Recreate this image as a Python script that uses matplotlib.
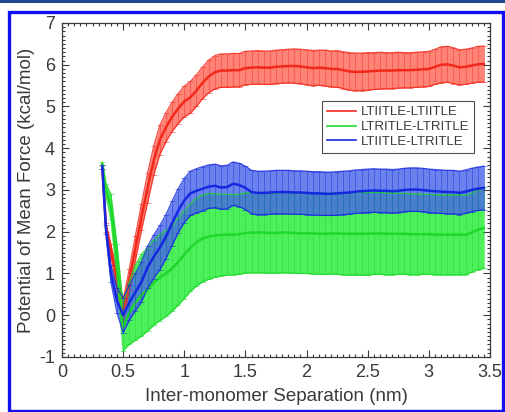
import matplotlib
matplotlib.use("Agg")
import matplotlib.pyplot as plt
import numpy as np
from matplotlib.patches import Rectangle
from matplotlib.ticker import MultipleLocator, FuncFormatter

plt.rcParams['font.family'] = ['Liberation Sans', 'DejaVu Sans']

# inter-monomer separation (nm)
sep = [0.33, 0.36, 0.40, 0.45, 0.50, 0.55, 0.60, 0.65, 0.70, 0.75,
       0.80, 0.85, 0.90, 0.95, 1.00, 1.05, 1.10, 1.15, 1.20, 1.25,
       1.30, 1.35, 1.40, 1.45, 1.50, 1.55, 1.60, 1.65, 1.70, 1.75,
       1.80, 1.85, 1.90, 1.95, 2.00, 2.05, 2.10, 2.15, 2.20, 2.25,
       2.30, 2.35, 2.40, 2.45, 2.50, 2.55, 2.60, 2.65, 2.70, 2.75,
       2.80, 2.85, 2.90, 2.95, 3.00, 3.05, 3.10, 3.15, 3.20, 3.25,
       3.30, 3.35, 3.40, 3.45]

# LTIITLE-LTIITLE
pmf_ii = [3.55, 2.10, 1.55, 0.85, 0.12, 0.85, 1.60, 2.35, 3.05, 3.70,
          4.20, 4.50, 4.75, 4.95, 5.12, 5.22, 5.38, 5.57, 5.72, 5.82,
          5.86, 5.86, 5.87, 5.87, 5.92, 5.93, 5.94, 5.93, 5.93, 5.95,
          5.96, 5.97, 5.97, 5.96, 5.94, 5.92, 5.93, 5.92, 5.90, 5.90,
          5.87, 5.84, 5.83, 5.83, 5.84, 5.85, 5.86, 5.86, 5.86, 5.87,
          5.87, 5.87, 5.88, 5.89, 5.90, 5.95, 6.00, 6.01, 5.98, 5.94,
          5.95, 5.98, 6.01, 6.02]
err_ii = [0.05, 0.10, 0.15, 0.20, 0.25, 0.25, 0.30, 0.32, 0.35, 0.35,
          0.35, 0.35, 0.35, 0.36, 0.37, 0.38, 0.38, 0.38, 0.39, 0.40,
          0.40, 0.40, 0.40, 0.40, 0.40, 0.40, 0.40, 0.40, 0.40, 0.40,
          0.40, 0.40, 0.41, 0.41, 0.42, 0.42, 0.42, 0.43, 0.43, 0.44,
          0.44, 0.45, 0.45, 0.45, 0.45, 0.44, 0.44, 0.43, 0.43, 0.43,
          0.42, 0.42, 0.42, 0.42, 0.42, 0.42, 0.43, 0.43, 0.43, 0.42,
          0.42, 0.42, 0.43, 0.43]

# LTRITLE-LTRITLE
pmf_rr = [3.62, 3.00, 2.60, 1.30, -0.30, 0.05, 0.30, 0.48, 0.62, 0.78,
          0.90, 1.00, 1.12, 1.28, 1.45, 1.62, 1.75, 1.84, 1.89, 1.91,
          1.92, 1.93, 1.93, 1.94, 1.97, 1.98, 1.98, 1.98, 1.97, 1.97,
          1.98, 1.98, 1.97, 1.96, 1.96, 1.96, 1.95, 1.95, 1.96, 1.96,
          1.95, 1.95, 1.95, 1.95, 1.95, 1.96, 1.96, 1.95, 1.95, 1.95,
          1.95, 1.94, 1.94, 1.94, 1.94, 1.93, 1.93, 1.93, 1.93, 1.93,
          1.92, 1.98, 2.05, 2.09]
err_rr = [0.05, 0.15, 0.30, 0.40, 0.55, 0.75, 0.90, 0.98, 1.00, 1.02,
          1.03, 1.03, 1.03, 1.04, 1.05, 1.05, 1.05, 1.04, 1.03, 1.00,
          0.98, 0.97, 0.96, 0.96, 0.96, 0.96, 0.96, 0.96, 0.96, 0.96,
          0.96, 0.96, 0.96, 0.96, 0.96, 0.97, 0.97, 0.97, 0.97, 0.98,
          0.98, 0.99, 0.99, 0.99, 0.99, 0.98, 0.98, 0.98, 0.98, 0.97,
          0.97, 0.97, 0.97, 0.96, 0.96, 0.96, 0.96, 0.96, 0.96, 0.96,
          0.95, 0.95, 0.96, 0.97]

# LTIITLE-LTRITLE
pmf_ir = [3.55, 2.05, 1.00, 0.35, 0.00, 0.30, 0.55, 0.80, 1.15, 1.40,
          1.62, 1.88, 2.20, 2.50, 2.75, 2.92, 2.98, 3.03, 3.08, 3.10,
          3.06, 3.07, 3.15, 3.12, 3.05, 2.95, 2.93, 2.93, 2.94, 2.95,
          2.95, 2.95, 2.94, 2.94, 2.93, 2.92, 2.92, 2.91, 2.91, 2.92,
          2.93, 2.94, 2.96, 2.97, 2.98, 2.99, 2.98, 2.98, 2.97, 2.98,
          3.00, 3.01, 3.01, 3.00, 2.98, 2.97, 2.96, 2.95, 2.95, 2.93,
          2.96, 3.00, 3.03, 3.05]
err_ir = [0.05, 0.10, 0.20, 0.30, 0.42, 0.42, 0.45, 0.48, 0.50, 0.52,
          0.53, 0.53, 0.53, 0.53, 0.53, 0.53, 0.53, 0.53, 0.52, 0.52,
          0.52, 0.52, 0.52, 0.52, 0.52, 0.52, 0.52, 0.52, 0.52, 0.52,
          0.52, 0.52, 0.52, 0.52, 0.52, 0.52, 0.52, 0.52, 0.52, 0.52,
          0.52, 0.52, 0.52, 0.52, 0.52, 0.52, 0.52, 0.52, 0.52, 0.52,
          0.52, 0.52, 0.52, 0.52, 0.52, 0.52, 0.52, 0.52, 0.52, 0.52,
          0.52, 0.52, 0.52, 0.52]

labels = ['LTIITLE-LTIITLE', 'LTRITLE-LTRITLE', 'LTIITLE-LTRITLE']

fig = plt.figure(figsize=(5.06, 4.12), dpi=100)
ax = fig.add_axes([0.1225, 0.1335, 0.8458, 0.8107])

series = [
    (pmf_ii, err_ii, '#f2281c', '#ff8478', 1.0),
    (pmf_rr, err_rr, '#1fd82c', '#4cf05a', 1.0),
    (pmf_ir, err_ir, '#1428e0', '#4a66e8', 0.82),
]

x = np.array(sep)
handles = []
for (m, e, lc, fc, a), lab in zip(series, labels):
    m = np.array(m)
    e = np.array(e)
    ax.fill_between(x, m - e, m + e, color=fc, lw=0, alpha=a)
    ax.errorbar(x, m, yerr=e, fmt='none', ecolor=lc, elinewidth=0.5,
                capsize=2.5, capthick=0.6, alpha=0.6)
    ax.plot(x, m + e, color=lc, lw=0.9, alpha=0.8)
    ax.plot(x, m - e, color=lc, lw=0.9, alpha=0.8)
    h, = ax.plot(x, m, color=lc, lw=1.8, label=lab)
    handles.append(h)

ax.set_xlim(0, 3.5)
ax.set_ylim(-1, 7)
ax.xaxis.set_major_locator(MultipleLocator(0.5))
ax.xaxis.set_minor_locator(MultipleLocator(0.05))
ax.yaxis.set_major_locator(MultipleLocator(1))
ax.yaxis.set_minor_locator(MultipleLocator(0.1))
ax.xaxis.set_major_formatter(FuncFormatter(lambda v, p: '%g' % v))
ax.yaxis.set_major_formatter(FuncFormatter(lambda v, p: '%g' % v))

gray = '#3a3a3a'
ax.tick_params(which='both', direction='in', top=True, right=True,
               colors=gray, labelsize=13, width=0.8)
ax.tick_params(which='major', length=5, pad=5)
ax.tick_params(which='minor', length=2.5)
for s in ax.spines.values():
    s.set_color(gray)
    s.set_linewidth(0.9)

ax.set_xlabel('Inter-monomer Separation (nm)', fontsize=13.5, color=gray, labelpad=5)
ax.set_ylabel('Potential of Mean Force (kcal/mol)', fontsize=13.5, color=gray, labelpad=3)

leg = ax.legend(handles=handles, loc='upper right', bbox_to_anchor=(0.963, 0.765),
                fontsize=9.5, frameon=True, fancybox=False, handlelength=2.2,
                labelspacing=0.2, borderpad=0.35, handletextpad=0.4,
                borderaxespad=0)
leg.get_frame().set_edgecolor('#222222')
leg.get_frame().set_linewidth(0.8)
for t in leg.get_texts():
    t.set_color(gray)
for l in leg.get_lines():
    l.set_linewidth(1.2)

# page decoration: dark strip on top and blue frame
W, H = 506, 412
fig.patches.append(Rectangle((0, 1 - 3 / H), 1, 3 / H, transform=fig.transFigure,
                             facecolor='#1d4a8c', edgecolor='none'))
fig.patches.append(Rectangle((9.5 / W, 1.5 / H), (503.5 - 9.5) / W, (400.5 - 1.5) / H,
                             transform=fig.transFigure, facecolor='none',
                             edgecolor='#1010f0', lw=2.4))

fig.savefig('out.png', dpi=100)
